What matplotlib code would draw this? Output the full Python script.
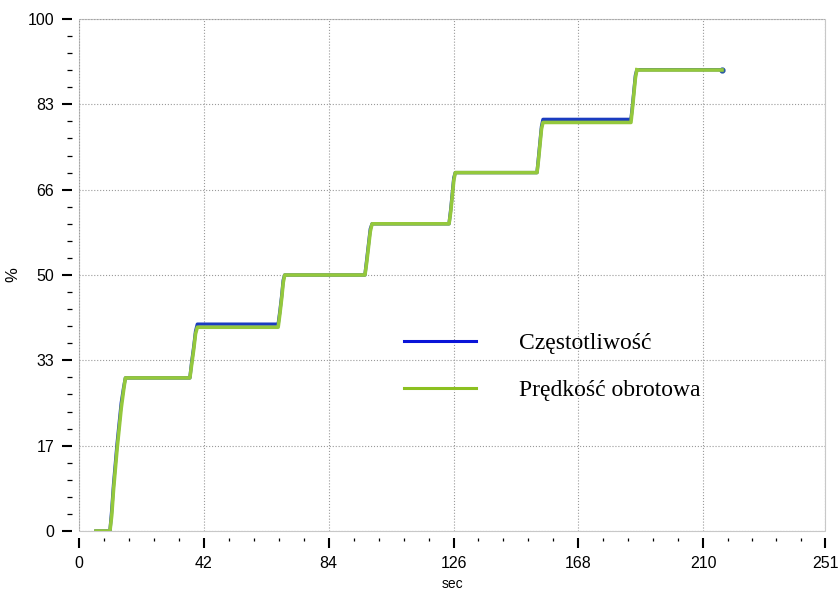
import matplotlib.pyplot as plt
from matplotlib.patches import Rectangle
from matplotlib.ticker import FixedLocator, MultipleLocator

plt.rcParams['font.family'] = ['Liberation Sans', 'DejaVu Sans']

# czas [s] i wartości [%]
czas = [5.7, 10.4, 11.0, 11.6, 12.2, 12.8, 13.5, 14.2, 15.0, 15.6,
        37.3, 37.9, 38.6, 39.2, 39.8,
        67.0, 67.6, 68.2, 68.7, 69.2,
        96.2, 96.8, 97.4, 98.0, 98.6,
        124.5, 125.1, 125.6, 126.1, 126.6,
        154.1, 154.6, 155.1, 155.6, 156.1,
        185.7, 186.2, 186.7, 187.2, 187.7,
        216.5]
czestotliwosc = [0, 0, 4, 9, 13, 17, 21, 25, 28, 29.9,
                 29.9, 33, 36, 39, 40.4,
                 40.4, 43, 46, 49, 50.0,
                 50.0, 53, 56, 59, 60.0,
                 60.0, 63, 66, 69, 70.0,
                 70.0, 73, 76, 79, 80.4,
                 80.4, 83, 86, 89, 90.1,
                 90.1]
predkosc = [0, 0, 3, 8, 12, 16, 20, 24, 27.5, 29.9,
            29.9, 32.5, 35.5, 38.5, 39.8,
            39.8, 42.5, 45.5, 48.5, 50.0,
            50.0, 52.5, 55.5, 58.5, 60.0,
            60.0, 62.5, 65.5, 68.5, 70.0,
            70.0, 72.5, 75.5, 78.5, 79.8,
            79.8, 82.5, 85.5, 88.5, 90.1,
            90.1]

x_ticks = [0, 42, 84, 126, 168, 210, 251]
y_ticks = [0, 100 / 6, 200 / 6, 50, 400 / 6, 500 / 6, 100]
y_labels = ['0', '17', '33', '50', '66', '83', '100']

fig = plt.figure(figsize=(8.38, 5.89), dpi=100)
ax = fig.add_axes([0.0943, 0.0985, 0.8902, 0.8692])

ax.plot(czas, czestotliwosc, color='#1a3cc0', lw=2.4, label='Częstotliwość',
        solid_joinstyle='round')
ax.plot(czas[-1], czestotliwosc[-1], 'o', color='#2a5aa0', ms=3.5)
ax.plot(czas[:-1], predkosc[:-1], color='#94c83c', lw=2.6, label='Prędkość obrotowa',
        solid_joinstyle='round')
ax.plot(czas[-2:], predkosc[-2:], color='#94c83c', lw=2.6)

ax.set_xlim(0, 251)
ax.set_ylim(0, 100)
ax.xaxis.set_major_locator(FixedLocator(x_ticks))
ax.xaxis.set_minor_locator(FixedLocator([i * 8.4 for i in range(25) if i % 5]
                                        + [218.2, 226.4, 234.6, 242.8]))
ax.yaxis.set_major_locator(FixedLocator(y_ticks))
ax.yaxis.set_minor_locator(MultipleLocator(100 / 30))
ax.set_yticklabels(y_labels)

for s in ['top', 'right']:
    ax.spines[s].set_visible(False)
for s in ['left', 'bottom']:
    ax.spines[s].set_position(('outward', 5))
    ax.spines[s].set_visible(False)

ax.add_patch(Rectangle((0, 0), 1, 1, transform=ax.transAxes, fill=False,
                       ec='#c8c8c8', lw=0.8, clip_on=False))
ax.grid(True, which='major', ls=':', color='#9a9a9a', lw=0.8)

ax.tick_params(which='major', length=7, width=1.5, color='black', labelsize=11.5, pad=6)
ax.tick_params(which='minor', length=3.5, width=0.9, color='black')
ax.tick_params(axis='x', which='minor', length=2.5)

ax.set_xlabel('sec', fontsize=10, labelpad=4)
ax.set_ylabel('%', fontsize=12, labelpad=5)

leg = ax.legend(loc='upper left', bbox_to_anchor=(0.436, 0.387), frameon=False,
                borderpad=0, borderaxespad=0, handlelength=3.05, handletextpad=1.8,
                labelspacing=1.08, prop={'family': 'Liberation Serif', 'size': 17})
leg.get_lines()[0].set_color('#0a14d8')
leg.get_lines()[0].set_linewidth(2.2)
leg.get_lines()[1].set_linewidth(2.2)
leg.get_lines()[1].set_color('#8cc020')

fig.savefig('out.png', dpi=100)
